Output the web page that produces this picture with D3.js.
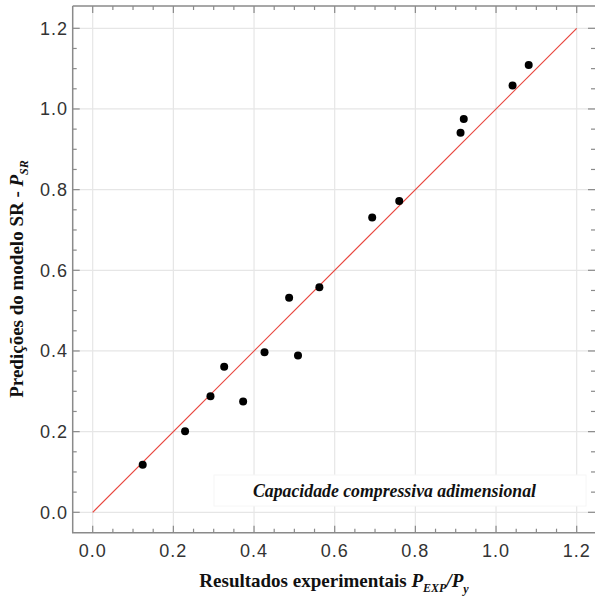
<!DOCTYPE html>
<html>
<head>
<meta charset="utf-8">
<script src="https://cdn.jsdelivr.net/npm/d3@7"></script>
<style>
  html, body { margin: 0; padding: 0; background: #fff; }
  svg { display: block; }
</style>
</head>
<body>
<svg id="chart" width="595" height="603"></svg>
<script>
// Experimental vs. predicted dimensionless compressive capacity
const expValues  = [0.124, 0.229, 0.292, 0.326, 0.373, 0.426, 0.487, 0.509, 0.562, 0.693, 0.760, 0.912, 0.920, 1.041, 1.081];
const predValues = [0.118, 0.201, 0.288, 0.361, 0.275, 0.397, 0.532, 0.389, 0.558, 0.731, 0.772, 0.941, 0.975, 1.058, 1.109];
const majorTicks = [0.0, 0.2, 0.4, 0.6, 0.8, 1.0, 1.2];
const minorTicks = [0.05, 0.1, 0.15, 0.25, 0.3, 0.35, 0.45, 0.5, 0.55, 0.65, 0.7, 0.75, 0.85, 0.9, 0.95, 1.05, 1.1, 1.15];
const tickLabels = ["0.0", "0.2", "0.4", "0.6", "0.8", "1.0", "1.2"];
const identityLine = [0, 1.2];
const legendText = "Capacidade compressiva adimensional";

const svg = d3.select("#chart");
const frame = { left: 72.7, right: 595, top: 6, bottom: 532.7 };

const x = d3.scaleLinear().domain([0, 1.2]).range([92.7, 576.7]);
const y = d3.scaleLinear().domain([0, 1.2]).range([512.3, 28.3]);

// grid
const grid = svg.append("g");
grid.selectAll("line.gx").data(majorTicks).join("line")
  .attr("x1", d => x(d)).attr("x2", d => x(d))
  .attr("y1", frame.top).attr("y2", frame.bottom)
  .attr("stroke", "#e6e6e6").attr("stroke-width", 1.2);
grid.selectAll("line.gy").data(majorTicks).join("line")
  .attr("y1", d => y(d)).attr("y2", d => y(d))
  .attr("x1", frame.left).attr("x2", frame.right)
  .attr("stroke", "#e6e6e6").attr("stroke-width", 1.2);

// legend box
const legendG = svg.append("g");
legendG.append("rect")
  .attr("x", 214).attr("y", 475).attr("width", 372).attr("height", 31)
  .attr("fill", "#fff").attr("stroke", "#f6f6f6").attr("stroke-width", 1);
legendG.append("text")
  .attr("x", 253).attr("y", 497)
  .attr("font-family", "'Liberation Serif', 'Times New Roman', serif")
  .attr("font-weight", "bold").attr("font-style", "italic")
  .attr("font-size", 18).attr("fill", "#111")
  .attr("textLength", 283).attr("lengthAdjust", "spacingAndGlyphs")
  .text(legendText);

// identity line
svg.append("line")
  .attr("x1", x(identityLine[0])).attr("y1", y(identityLine[0]))
  .attr("x2", x(identityLine[1])).attr("y2", y(identityLine[1]))
  .attr("stroke", "#e8463e").attr("stroke-width", 1.2);

// points
svg.append("g").selectAll("circle").data(expValues).join("circle")
  .attr("cx", d => x(d)).attr("cy", (d, i) => y(predValues[i]))
  .attr("r", 4).attr("fill", "#000");

// frame
const axisColor = "#8a8a8a";
svg.append("path")
  .attr("d", `M${frame.left},${frame.top}H${frame.right}M${frame.left},${frame.top}V${frame.bottom}H${frame.right}`)
  .attr("fill", "none").attr("stroke", axisColor).attr("stroke-width", 1.5);

// ticks (inward on all four sides)
const tickG = svg.append("g").attr("stroke", axisColor).attr("stroke-width", 1.2);
const allTicks = majorTicks.map(v => ({ v, len: 7 })).concat(minorTicks.map(v => ({ v, len: 4 })));
allTicks.forEach(t => {
  tickG.append("line").attr("x1", x(t.v)).attr("x2", x(t.v)).attr("y1", frame.bottom).attr("y2", frame.bottom - t.len);
  tickG.append("line").attr("x1", x(t.v)).attr("x2", x(t.v)).attr("y1", frame.top).attr("y2", frame.top + t.len);
  tickG.append("line").attr("y1", y(t.v)).attr("y2", y(t.v)).attr("x1", frame.left).attr("x2", frame.left + t.len);
  tickG.append("line").attr("y1", y(t.v)).attr("y2", y(t.v)).attr("x1", frame.right).attr("x2", frame.right - t.len);
});

// tick labels
const labelFont = "'Liberation Sans', Arial, sans-serif";
svg.append("g").selectAll("text").data(majorTicks).join("text")
  .attr("x", d => x(d)).attr("y", 556.5)
  .attr("text-anchor", "middle")
  .attr("font-family", labelFont).attr("font-size", 18).attr("letter-spacing", 1)
  .attr("fill", "#333")
  .text((d, i) => tickLabels[i]);
svg.append("g").selectAll("text").data(majorTicks).join("text")
  .attr("x", 68).attr("y", d => y(d)).attr("dy", "0.36em")
  .attr("text-anchor", "end")
  .attr("font-family", labelFont).attr("font-size", 18).attr("letter-spacing", 1)
  .attr("fill", "#333")
  .text((d, i) => tickLabels[i]);

// axis titles
const serif = "'Liberation Serif', 'Times New Roman', serif";
const xt = svg.append("text")
  .attr("x", 334).attr("y", 587)
  .attr("text-anchor", "middle")
  .attr("font-family", serif).attr("font-weight", "bold").attr("font-size", 19).attr("fill", "#111");
xt.append("tspan").text("Resultados experimentais ");
xt.append("tspan").attr("font-style", "italic").text("P");
xt.append("tspan").attr("font-style", "italic").attr("font-size", 12).attr("dy", 5).text("EXP");
xt.append("tspan").attr("font-style", "italic").attr("dy", -5).text("/P");
xt.append("tspan").attr("font-style", "italic").attr("font-size", 12).attr("dy", 6).text("y");

const yt = svg.append("text")
  .attr("transform", "translate(23,279) rotate(-90)")
  .attr("text-anchor", "middle")
  .attr("font-family", serif).attr("font-weight", "bold").attr("font-size", 19).attr("fill", "#111");
yt.append("tspan").text("Predições do modelo SR - ");
yt.append("tspan").attr("font-style", "italic").text("P");
yt.append("tspan").attr("font-style", "italic").attr("font-size", 12).attr("dy", 5).text("SR");
</script>
</body>
</html>
